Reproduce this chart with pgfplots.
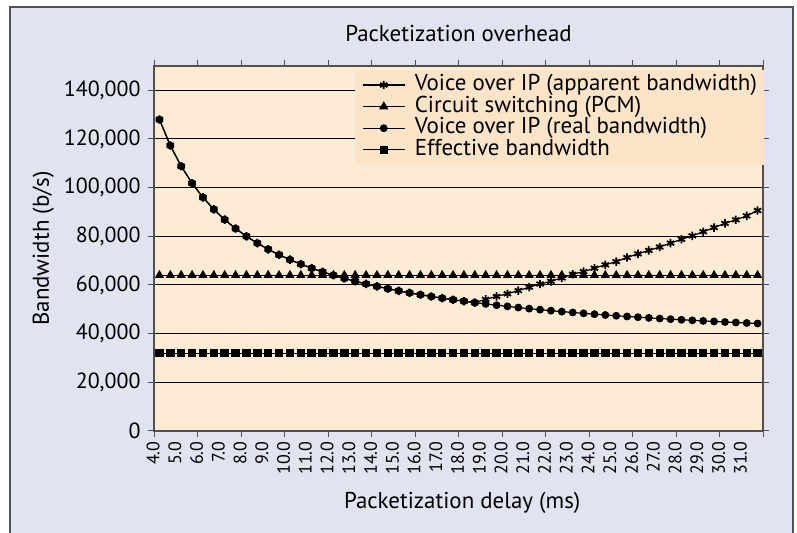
\documentclass[border=0pt]{standalone}
\usepackage{pgfplots}
\usepackage{pgfplotstable}
\pgfplotsset{compat=1.18}
\usepackage{fontspec}
\setmainfont{PT Sans}
\definecolor{outerbg}{HTML}{E1E3F0}
\definecolor{plotbg}{HTML}{FDEBD4}
\definecolor{legbg}{HTML}{FCE4C8}
\definecolor{framec}{HTML}{505050}

\pgfplotstableread{
d     app     pcm    real    eff
4.0   128000  64000  128000  32000
4.5   117333  64000  117333  32000
5.0   108800  64000  108800  32000
5.5   101818  64000  101818  32000
6.0   96000   64000  96000   32000
6.5   91077   64000  91077   32000
7.0   86857   64000  86857   32000
7.5   83200   64000  83200   32000
8.0   80000   64000  80000   32000
8.5   77176   64000  77176   32000
9.0   74667   64000  74667   32000
9.5   72421   64000  72421   32000
10.0  70400   64000  70400   32000
10.5  68571   64000  68571   32000
11.0  66909   64000  66909   32000
11.5  65391   64000  65391   32000
12.0  64000   64000  64000   32000
12.5  62720   64000  62720   32000
13.0  61538   64000  61538   32000
13.5  60444   64000  60444   32000
14.0  59429   64000  59429   32000
14.5  58483   64000  58483   32000
15.0  57600   64000  57600   32000
15.5  56774   64000  56774   32000
16.0  56000   64000  56000   32000
16.5  55273   64000  55273   32000
17.0  54588   64000  54588   32000
17.5  53943   64000  53943   32000
18.0  53333   64000  53333   32000
18.5  52757   64000  52757   32000
19.0  54100   64000  52211   32000
19.5  55300   64000  51692   32000
20.0  56400   64000  51200   32000
20.5  57700   64000  50732   32000
21.0  59100   64000  50286   32000
21.5  60400   64000  49860   32000
22.0  61500   64000  49455   32000
22.5  62900   64000  49067   32000
23.0  64400   64000  48696   32000
23.5  65500   64000  48340   32000
24.0  66900   64000  48000   32000
24.5  68300   64000  47673   32000
25.0  69600   64000  47360   32000
25.5  71300   64000  47059   32000
26.0  72800   64000  46769   32000
26.5  74200   64000  46491   32000
27.0  75600   64000  46222   32000
27.5  77200   64000  45964   32000
28.0  78800   64000  45714   32000
28.5  80200   64000  45474   32000
29.0  81900   64000  45241   32000
29.5  83600   64000  45017   32000
30.0  85300   64000  44800   32000
30.5  86800   64000  44590   32000
31.0  88400   64000  44387   32000
31.5  90600   64000  44190   32000
}\datatable

\begin{document}
\begin{tikzpicture}[x=1bp,y=1bp]
\useasboundingbox (0,0) rectangle (797,533);
\fill[outerbg] (10,0) rectangle (793,526);
\draw[framec, line width=1.5bp] (10,0) -- (10,526) -- (793,526) -- (793,0);
\begin{axis}[
  at={(154bp,102bp)}, anchor=south west,
  scale only axis, width=609bp, height=365bp,
  xmin=3.75, xmax=31.75, ymin=0, ymax=150000,
  axis background/.style={fill=plotbg},
  axis line style={framec, line width=1.2bp},
  tick align=outside,
  major tick length=6bp,
  tick style={framec, line width=1bp},
  xtick={3.75,5.75,...,31.75},
  xticklabels={},
  extra x ticks={4,5,...,31},
  extra x tick labels={4.0,5.0,6.0,7.0,8.0,9.0,10.0,11.0,12.0,13.0,14.0,15.0,16.0,17.0,18.0,19.0,20.0,21.0,22.0,23.0,24.0,25.0,26.0,27.0,28.0,29.0,30.0,31.0},
  extra x tick style={major tick length=0pt, xticklabel shift=7bp,
    tick label style={rotate=90, anchor=base east, font=\fontsize{18}{21}\selectfont}},
  ytick={0,20000,...,140000},
  yticklabel style={font=\fontsize{22}{25}\selectfont, xshift=-4bp, /pgf/number format/.cd, fixed, 1000 sep={,}, assume math mode=true},
  scaled y ticks=false,
  ymajorgrids,
  major grid style={black, line width=1bp},
  title={Packetization overhead},
  title style={at={(axis description cs:0.5,1.072)}, anchor=center, font=\fontsize{23}{26}\selectfont},
  xlabel={Packetization delay (ms)},
  every axis x label/.style={at={(axis description cs:0.506,-0.198)}, anchor=center, font=\fontsize{23}{26}\selectfont},
  ylabel={Bandwidth (b/s)},
  every axis y label/.style={at={(axis description cs:-0.182,0.5)}, rotate=90, anchor=center, font=\fontsize{23}{26}\selectfont},
  legend style={at={(axis description cs:0.33,0.989)}, anchor=north west, fill=legbg, draw=none,
    font=\fontsize{23}{26}\selectfont, inner xsep=7bp, inner ysep=4bp, row sep=0bp,
    nodes={inner sep=0.5bp, text height=15.8bp, text depth=4.8bp},
    /tikz/every odd column/.append style={column sep=9bp}},
  legend cell align=left,
  legend image code/.code={\draw[#1] (0bp,0bp) -- (42bp,0bp); \draw[#1, only marks] plot coordinates {(21bp,0bp)};},
  every axis plot/.append style={black, line width=1.2bp},
]
\addplot[mark=asterisk, mark size=4.2bp, mark options={line width=1.8bp}] table[x=d, y=app] {\datatable};
\addlegendentry{Voice over IP (apparent bandwidth)}
\addplot[mark=triangle*, mark size=4.2bp] table[x=d, y=pcm] {\datatable};
\addlegendentry{Circuit switching (PCM)}
\addplot[mark=*, mark size=3.3bp] table[x=d, y=real] {\datatable};
\addlegendentry{Voice over IP (real bandwidth)}
\addplot[mark=square*, mark size=3.6bp] table[x=d, y=eff] {\datatable};
\addlegendentry{Effective bandwidth}
\end{axis}
\end{tikzpicture}
\end{document}
